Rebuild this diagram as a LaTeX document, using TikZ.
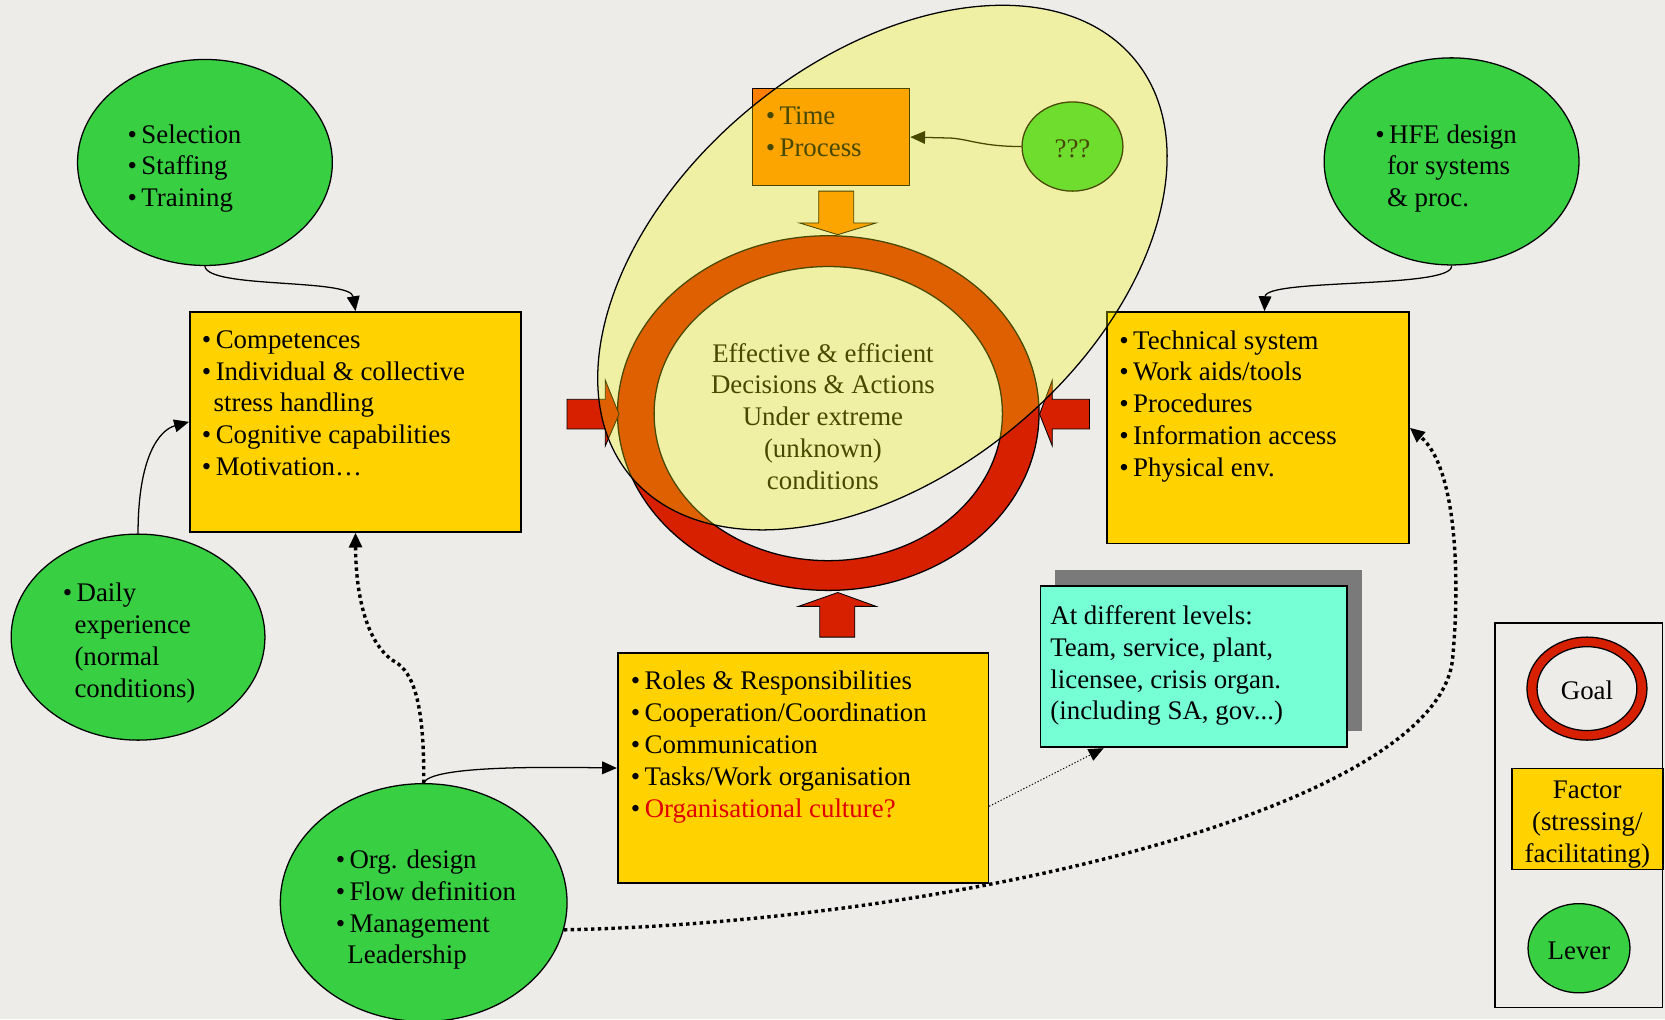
\documentclass[tikz,border=0pt]{standalone}
\usepackage{fontspec}
\setmainfont{Liberation Serif}
\usetikzlibrary{shapes.geometric,arrows.meta,shadows}

\definecolor{bgcol}{RGB}{238,236,233}
\definecolor{levergreen}{RGB}{56,208,66}
\definecolor{factoryellow}{RGB}{255,210,0}
\definecolor{goalred}{RGB}{214,32,0}
\definecolor{timeorange}{RGB}{255,128,0}
\definecolor{levelcyan}{RGB}{118,255,212}
\definecolor{shadowgray}{RGB}{122,122,122}
\definecolor{focusyellow}{RGB}{248,253,0}
\definecolor{culturered}{RGB}{225,0,0}

\newcommand\diagfont{\fontsize{25.3}{30}\selectfont}
\newcommand\itemdot{\makebox[13pt][l]{•}}
\newcommand\cont{\hspace*{11pt}}

\tikzset{
  lever/.style={ellipse, draw, fill=levergreen, line width=1.2pt, inner sep=0pt},
  factor/.style={rectangle, draw, fill=factoryellow, line width=1.6pt, inner sep=0pt},
  txt/.style={align=left, inner sep=0pt, anchor=north west, font=\diagfont, yshift=-4pt,
    execute at begin node={\rule{0pt}{20pt}}},
  keytxt/.style={font=\diagfont, text height=26pt, text depth=5pt},
  conn/.style={-{Triangle[length=14pt,width=12pt]}, line width=1.2pt},
  bigdots/.style={conn, line width=3.2pt, dash pattern=on 3.2pt off 3.2pt},
  smalldots/.style={conn, line width=0.9pt, dash pattern=on 1.2pt off 1.8pt},
}

\begin{document}
\begin{tikzpicture}[x=1pt,y=-1pt]
	\useasboundingbox (0,0) rectangle (1568,960);
	\fill[bgcol] (0,0) rectangle (1568,960);

	% levers
	\node[lever, minimum width=240, minimum height=194] (select) at (193,153) {};
	\node[lever, minimum width=240, minimum height=195] (hfe) at (1367,152) {};
	\node[lever, minimum width=239, minimum height=194] (daily) at (130,600) {};
	\node[lever, minimum width=270, minimum height=224] (orgdesign) at (399,850) {};

	% factors
	\node[factor, anchor=north west, minimum width=312, minimum height=207] (comp) at (178,293) {};
	\node[factor, anchor=north west, minimum width=284, minimum height=218] (tech) at (1042,293) {};
	\node[factor, anchor=north west, minimum width=349, minimum height=217] (roles) at (581,614) {};
	\node[rectangle, draw, fill=levelcyan, line width=1.6pt, anchor=north west,
		minimum width=289, minimum height=152,
		drop shadow={shadow xshift=14pt, shadow yshift=15pt, fill=shadowgray, opacity=1}] (levels) at (979,551) {};

	% goal ring
	\draw[fill=goalred, even odd rule, line width=1.2pt]
		(780,389) ellipse [x radius=198.5, y radius=167]
		(780,389.5) ellipse [x radius=164, y radius=138.5];

	% block arrows into the ring
	\fill[timeorange, draw=black, line width=0.8pt] (771,180) -- (804,180) -- (804,210) -- (825,210)
		-- (789,221) -- (753,210) -- (771,210) -- cycle;
	\fill[goalred, draw=black, line width=0.8pt] (772,600) -- (805,600) -- (805,571) -- (825,571)
		-- (789,558) -- (752,571) -- (772,571) -- cycle;
	\fill[goalred, draw=black, line width=0.8pt] (534,376) -- (570,376) -- (570,358) -- (583,390)
		-- (570,420) -- (570,404) -- (534,404) -- cycle;
	\fill[goalred, draw=black, line width=0.8pt] (1026,376) -- (991,376) -- (991,358) -- (979,390)
		-- (991,420) -- (991,404) -- (1026,404) -- cycle;

	\node[rectangle, draw, fill=timeorange, line width=1.2pt, anchor=north west,
		minimum width=148, minimum height=91] (time) at (708,83) {};
	\node[txt] (timetxt) at (721,96) {\itemdot Time\\\itemdot Process};
	\node[lever, minimum width=95, minimum height=84, keytxt] (unknown) at (1010,138) {???};
	\draw[conn] (unknown.west) .. controls (925,138) and (912,131) .. (895,130) -- (time.east);

	\node[font=\diagfont, align=center, anchor=north, inner sep=0pt, yshift=-3pt,
		execute at begin node={\rule{0pt}{20pt}}] (goal) at (775,320)
		{Effective \& efficient\\Decisions \& Actions\\Under extreme\\(unknown)\\conditions};

	% focus area
	\node[ellipse, draw, fill=focusyellow, fill opacity=0.29, line width=1.2pt,
		minimum width=616, minimum height=390, rotate=39.5] (focus) at (831,252) {};

	% texts
	\node[txt] (selecttxt) at (120,113) {\itemdot Selection\\\itemdot Staffing\\\itemdot Training};
	\node[txt] (hfetxt) at (1295,113) {\itemdot HFE design\\\cont for systems\\\cont \& proc.};
	\node[txt] (dailytxt) at (59,545) {\itemdot Daily\\\cont experience\\\cont (normal\\\cont conditions)};
	\node[txt] (orgtxt) at (316,796) {\itemdot Org. design\\\itemdot Flow definition\\\itemdot Management\\\cont Leadership};
	\node[txt] (comptxt) at (190,307) {\itemdot Competences\\\itemdot Individual \& collective\\\cont stress handling\\\itemdot Cognitive capabilities\\\itemdot Motivation…};
	\node[txt] (techtxt) at (1054,307) {\itemdot Technical system\\\itemdot Work aids/tools\\\itemdot Procedures\\\itemdot Information access\\\itemdot Physical env.};
	\node[txt] (rolestxt) at (594,628) {\itemdot Roles \& Responsibilities\\\itemdot Cooperation/Coordination\\\itemdot Communication\\\itemdot Tasks/Work organisation\\\itemdot \textcolor{culturered}{Organisational culture?}};
	\node[txt] (levelstxt) at (989,566) {At different levels:\\Team, service, plant,\\licensee, crisis organ.\\(including SA, gov...)};

	% connectors
	\draw[conn] (select.south) .. controls (195,272) and (330,262) .. (comp.north);
	\draw[conn] (hfe.south) .. controls (1370,272) and (1192,262) .. ([xshift=6pt]tech.north);
	\draw[conn] (daily.north) .. controls (130,430) and (150,405) .. (comp.west);
	\draw[conn] (orgdesign.north) .. controls (405,722) and (500,722) .. (roles.west);
	\draw[bigdots] (orgdesign.north) .. controls (400,650) and (385,630) .. (370,622)
		.. controls (345,605) and (335,560) .. (comp.south);
	\draw[bigdots] (orgdesign.-11) .. controls (900,868) and (1355,760) .. (1368,620)
		.. controls (1375,545) and (1372,440) .. (tech.east);
	\draw[smalldots] ([yshift=-36pt]roles.east) -- ([xshift=-85pt]levels.south);

	% legend
	\node[draw, line width=1.4pt, anchor=north west, minimum width=158, minimum height=362] (legend) at (1407,586) {};
	\node[ellipse, draw, fill=goalred, line width=1.2pt, minimum width=113, minimum height=97] (goalkey) at (1494.5,648.5) {};
	\node[ellipse, draw, fill=bgcol, line width=1.2pt, inner sep=0pt, minimum width=94, minimum height=79, keytxt] (goalkeyin) at (1494.5,648.5) {Goal};
	\node[factor, anchor=north west, minimum width=142, minimum height=95] (factorkey) at (1423,723) {};
	\node[font=\diagfont, align=center, inner sep=0pt, yshift=-5pt] (factorkeytxt) at (factorkey.center) {Factor\\(stressing/\\facilitating)};
	\node[lever, minimum width=96, minimum height=84, keytxt] (leverkey) at (1487,893) {Lever};
\end{tikzpicture}
\end{document}
